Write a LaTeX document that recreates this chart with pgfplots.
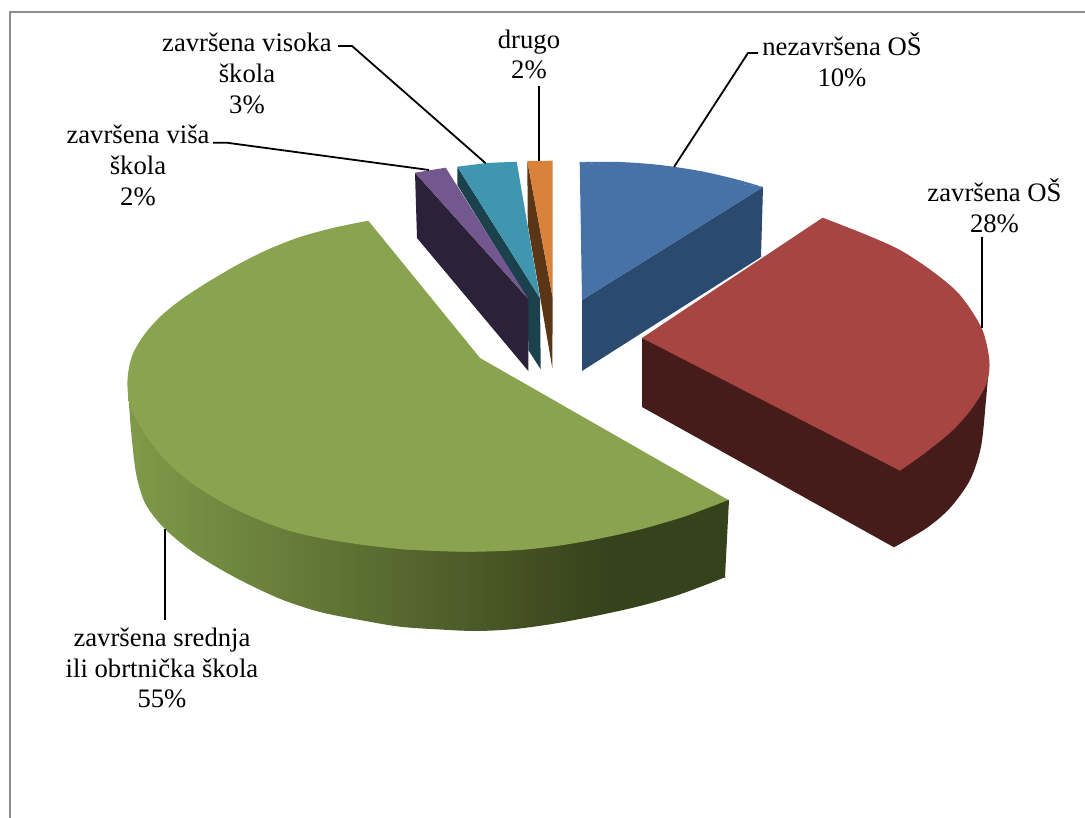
\documentclass[border=0pt]{standalone}
\usepackage{pgfplots}
\pgfplotsset{compat=1.18}
\usepackage{fontspec}
\setmainfont{Liberation Serif}
\definecolor{cblue}{HTML}{4672A8}\definecolor{dblue}{HTML}{2B4A70}
\definecolor{cred}{HTML}{A64542}\definecolor{dred}{HTML}{451C1A}
\definecolor{cgreen}{HTML}{8AA34F}
\definecolor{gl}{HTML}{7F9A49}\definecolor{gm}{HTML}{56682F}\definecolor{gn}{HTML}{434F21}\definecolor{gr}{HTML}{35421C}
\definecolor{cpur}{HTML}{73578F}\definecolor{dpur}{HTML}{2B2138}
\definecolor{cteal}{HTML}{4096AF}\definecolor{dteal}{HTML}{1A414C}
\definecolor{cor}{HTML}{D8823B}\definecolor{dor}{HTML}{5A3616}
\definecolor{frame}{HTML}{8E8E8E}
\pgfdeclarehorizontalshading{gside}{100bp}{color(0bp)=(gl); color(25bp)=(gl); color(47.6bp)=(gm); color(58.4bp)=(gn); color(65bp)=(gr); color(100bp)=(gr)}
\tikzset{lab/.style={font=\fontsize{26.67}{30.7}\selectfont, align=center, inner sep=0pt, text=black}}
\begin{document}
\begin{tikzpicture}
\begin{axis}[
  scale only axis, width=1085pt, height=818pt,
  xmin=0, xmax=1085, ymin=0, ymax=818, y dir=reverse,
  hide axis, clip=true,
]
% page
\addplot[fill=white,draw=none] coordinates {(0,0)(1085,0)(1085,818)(0,818)};
% frame
\addplot[draw=frame,line width=2pt] coordinates {(9.5,818)(9.5,12.5)(1085,12.5)};
% blue
\addplot[fill=dblue,draw=none] coordinates {(582,300)(763,187)(761,257)(582,371)};
\addplot[fill=cblue,draw=none] coordinates {(579.7,162)(660,172)(763,187)(582,300)};
\addplot[fill=cblue,draw=none,smooth] coordinates {(579.7,162)(620,162)(660,165)(700,171)(735,179)(763,187)};
% orange
\addplot[fill=dor,draw=none] coordinates {(527.3,161)(527.8,225)(552.3,368)(552.7,298)};
\addplot[fill=cor,draw=none] coordinates {(527.3,161)(552.7,160.7)(552.7,298)};
% teal
\addplot[fill=dteal,draw=none] coordinates {(457.3,166.7)(457.3,185)(528,300)(528.3,350)(540.7,369.3)(540,298.3)};
\addplot[fill=cteal,draw=none] coordinates {(457.3,166.7)(487,163)(516.7,161.7)(540,298.3)};
% purple
\addplot[fill=dpur,draw=none] coordinates {(415,172.7)(417,238)(528.3,371)(528.3,299)};
\addplot[fill=cpur,draw=none] coordinates {(415,172.7)(445.7,167.7)(528.3,299)};
% green side
\addplot[draw=none,smooth,shading=gside] coordinates {
(128,390)(131,430)(136,473)(145,503)(163,527)(190,550)(220,569)(250,585)(283,600)(320,612)(360,620)(400,626.7)(440,629.5)(476.7,631)(515,629)(555,623.5)(600,615)(640,606)(675,596)(700,587)(724,577.7)(725,577.3)(725.05,576)(729,500)};
% green top
\addplot[fill=cgreen,draw=none,smooth] coordinates {
(368.3,220.7)(335,227.5)(300,237)(268,249.5)(238,264.5)(208,282)(182,299)(161,316)(144,335)(132,356)(127.5,380)(130,406)(143,431)(164,459)(190,482)(220,501)(250,516)(285,529.5)(320,538)(360,544.5)(400,549)(440,551)(476.7,551.7)};
\addplot[fill=cgreen,draw=none,smooth] coordinates {
(400,549)(440,551)(476.7,551.7)(520,550)(560,545.5)(600,538.5)(640,529.5)(680,518)(705,509)(728.3,500)};
\addplot[fill=cgreen,draw=none] coordinates {(368.3,220.7)(480,358)(728.3,500)(600,530)(400,545)};
% red
\addplot[fill=dred,draw=none] coordinates {(642,338)(642,407)(894,547.3)(950,470)(989,365)};
\addplot[fill=dred,draw=none,smooth] coordinates {(894,547.3)(926.7,528)(950,508)(970,480)(981,446.7)(986,400)(989,365)};
\addplot[fill=cred,draw=none] coordinates {(642,338)(822.7,217.7)(880,340)(900,470.7)};
\addplot[fill=cred,draw=none,smooth] coordinates {(822.7,217.7)(866.7,235)(900,250)(933,271.7)(960,295)(981.7,328.3)(989.3,360)(986.7,383)(973,407)(953,430)(926.7,451.7)(900,470.7)};
% leaders
\addplot[black,line width=1.8pt] coordinates {(758,53)(748,53)(674,167)};
\addplot[black,line width=1.8pt] coordinates {(982.3,237)(982.3,328)};
\addplot[black,line width=1.8pt] coordinates {(165.3,529)(165.3,620)};
\addplot[black,line width=1.8pt] coordinates {(539,86)(539,161)};
\addplot[black,line width=1.8pt] coordinates {(338,46)(352,46)(485.7,163.3)};
\addplot[black,line width=1.8pt] coordinates {(213,142.7)(226.7,142.7)(429,170)};
% labels
\node[lab] at (axis cs:842,60) {nezavršena OŠ\\10\%};
\node[lab] at (axis cs:994.5,206) {završena OŠ\\28\%};
\node[lab] at (axis cs:529,54.5) {drugo\\2\%};
\node[lab] at (axis cs:247,73.5) {završena visoka\\škola\\3\%};
\node[lab] at (axis cs:138,165.5) {završena viša\\škola\\2\%};
\node[lab] at (axis cs:162,668) {završena srednja\\ili obrtnička škola\\55\%};
\end{axis}
\end{tikzpicture}
\end{document}
